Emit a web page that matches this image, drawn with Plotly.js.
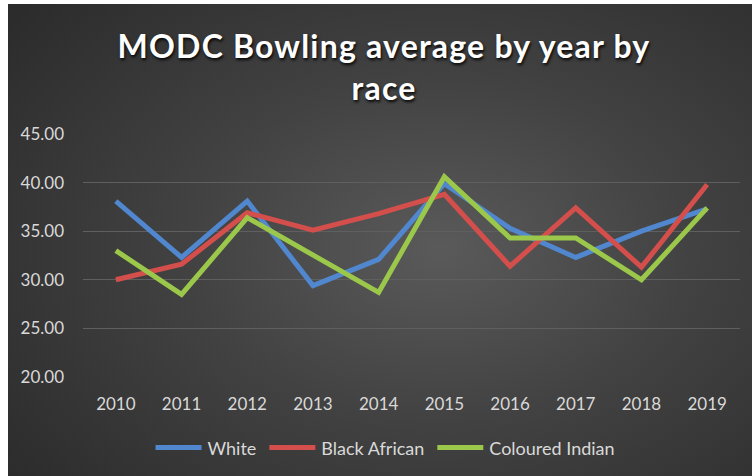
<!DOCTYPE html>
<html>
<head>
<meta charset="utf-8">
<script src="https://cdn.plot.ly/plotly-3.0.1.min.js"></script>
<style>
  html, body { margin: 0; padding: 0; background: #ffffff; width: 753px; height: 476px; overflow: hidden; }
  #bg { position: absolute; left: 8px; top: 4px; width: 744px; height: 472px;
        background: radial-gradient(ellipse 75% 80% at 58% 52%, #5a5a5a 0%, #424242 45%, #2b2b2b 100%); }
  #chart { position: absolute; left: 0; top: 0; width: 753px; height: 476px; }
  #chart .gtitle { letter-spacing: 1.2px; }
</style>
</head>
<body>
<div id="bg"></div>
<div id="chart"></div>
<script>
const years = ['2010','2011','2012','2013','2014','2015','2016','2017','2018','2019'];
const white = [38.1, 32.3, 38.1, 29.4, 32.1, 39.9, 35.3, 32.3, 35.0, 37.3];
const blackAfrican = [30.0, 31.6, 36.9, 35.1, 36.8, 38.8, 31.4, 37.4, 31.3, 39.8];
const colouredIndian = [33.0, 28.5, 36.4, 32.5, 28.7, 40.6, 34.3, 34.3, 30.0, 37.4];
const seriesNames = ['White', 'Black African', 'Coloured Indian'];
const colors = ['#5087cf', '#d44f4c', '#9bc84b'];
const yTicks = [20, 25, 30, 35, 40, 45];
const yTickText = ['20.00', '25.00', '30.00', '35.00', '40.00', '45.00'];

const seriesData = [white, blackAfrican, colouredIndian];
const traces = seriesData.map((vals, i) => ({
  type: 'scatter', mode: 'lines', x: years, y: vals, name: seriesNames[i],
  line: { color: colors[i], width: 5 }
}));

const layout = {
  width: 753, height: 476,
  paper_bgcolor: 'rgba(0,0,0,0)', plot_bgcolor: 'rgba(0,0,0,0)',
  margin: { l: 83, r: 13, t: 133.5, b: 99.3 },
  font: { family: 'Lato, "Open Sans", sans-serif', color: '#d9d9d9', size: 17 },
  title: {
    text: 'MODC Bowling average by year by<br>race',
    font: { family: 'Lato, "Open Sans", sans-serif', size: 32, weight: 'bold', color: '#ffffff', shadow: '1px 2px 3px rgba(0,0,0,0.9)' },
    x: 0.51, xanchor: 'center', y: 0.878, yanchor: 'top', yref: 'container'
  },
  xaxis: {
    type: 'category', range: [-0.5, 9.5], showgrid: false, zeroline: false, showline: false,
    ticks: '', ticklabelstandoff: 15, tickfont: { size: 17, color: '#d9d9d9' }
  },
  yaxis: {
    range: [20, 45], tickvals: yTicks, ticktext: yTickText, showgrid: true,
    gridcolor: '#5f5f5f', gridwidth: 1, zeroline: false, showline: false, ticks: '',
    ticklabelstandoff: 18, tickfont: { size: 17, color: '#d9d9d9' }
  },
  showlegend: true,
  legend: {
    orientation: 'h', x: 0.51, xanchor: 'center', xref: 'container',
    y: 0.059, yanchor: 'middle', yref: 'container',
    font: { size: 18, color: '#d9d9d9' }, itemwidth: 50, tracegroupgap: 0,
    bgcolor: 'rgba(0,0,0,0)'
  },
  hovermode: false
};

Plotly.newPlot('chart', traces, layout, { displayModeBar: false, staticPlot: true }).then(gd => {
  // lengthen the legend line samples to match the reference's longer swatches
  gd.querySelectorAll('.legendlines path').forEach(p => p.setAttribute('d', 'M8,0h46'));
});
</script>
</body>
</html>
